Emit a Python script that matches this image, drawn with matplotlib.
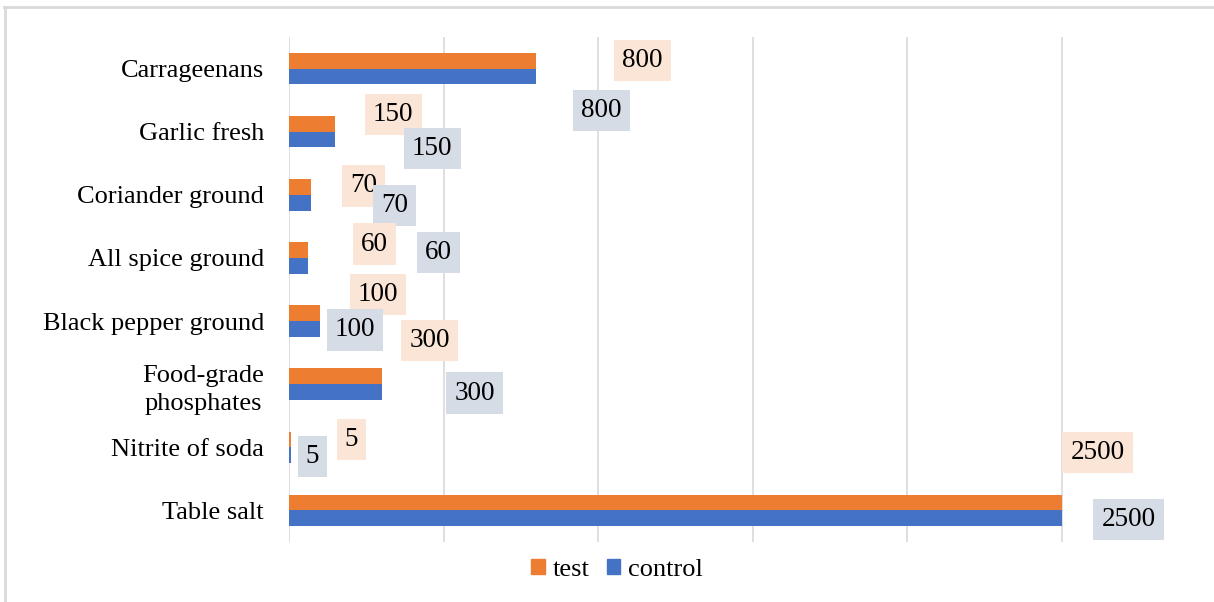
import matplotlib.pyplot as plt
from matplotlib.lines import Line2D
from matplotlib.patches import Patch

categories = ['Carrageenans', 'Garlic fresh', 'Coriander ground', 'All spice ground',
              'Black pepper ground', 'Food-grade\nphosphates', 'Nitrite of soda', 'Table salt']
test = [800, 150, 70, 60, 100, 300, 5, 2500]
control = [800, 150, 70, 60, 100, 300, 5, 2500]

# label offsets from the bar end, in pixels (dx right, dy up)
test_off = [(106, 0), (58, 9), (53, 1), (67, 6), (58, 19), (48, 36), (61, 0), (36, 50)]
control_off = [(65, -34), (97, -9), (84, -3), (131, 13), (35, -1), (93, -1), (22, -1), (67, -1)]

c_test = '#ED7D31'
c_control = '#4472C4'

plt.rcParams['font.family'] = ['Liberation Serif', 'DejaVu Serif']

fig = plt.figure(figsize=(12.14, 6.02), dpi=100)
W, H = 1214, 602
ax = fig.add_axes([289 / W, 1 - 542 / H, (1216 - 289) / W, (542 - 37) / H])

n = len(categories)
pos = list(range(n))[::-1]
h = 0.25
ax.barh([p + h / 2 for p in pos], test, height=h, color=c_test, label='test', zorder=3)
ax.barh([p - h / 2 for p in pos], control, height=h, color=c_control, label='control', zorder=3)

for i in range(n):
    ax.annotate(str(test[i]), xy=(test[i], pos[i] + h / 2), xytext=test_off[i],
                textcoords='offset pixels', ha='center', va='center', fontsize=19.5,
                bbox=dict(boxstyle='square,pad=0.3', fc='#FBE5D6', ec='none'), zorder=5)
    ax.annotate(str(control[i]), xy=(control[i], pos[i] - h / 2), xytext=control_off[i],
                textcoords='offset pixels', ha='center', va='center', fontsize=19.5,
                bbox=dict(boxstyle='square,pad=0.3', fc='#D6DCE5', ec='none'), zorder=5)

ax.set_xlim(0, 3000)
ax.set_ylim(-0.5, n - 0.5)
ax.set_xticks(range(0, 3001, 500))
ax.set_xticklabels([])
ax.set_yticks(pos)
ax.set_yticklabels(categories, fontsize=19, multialignment='center', linespacing=1.4)
ax.tick_params(axis='both', length=0)
ax.tick_params(axis='y', pad=18)
ax.grid(axis='x', color='#D9D9D9', lw=1.2, zorder=0)
for s in ax.spines.values():
    s.set_visible(False)

handles = [Patch(color=c_test, label='test'), Patch(color=c_control, label='control')]
fig.legend(handles=handles, loc='center', bbox_to_anchor=(617 / W, 1 - 570 / H), ncol=2,
           frameon=False, fontsize=19, handlelength=0.5, handleheight=0.5,
           handletextpad=0.3, columnspacing=0.65)

# chart frame
fig.add_artist(Line2D([4 / W, 1], [1 - 7 / H, 1 - 7 / H], color='#D9D9D9', lw=2))
fig.add_artist(Line2D([5 / W, 5 / W], [0, 1 - 7 / H], color='#D9D9D9', lw=2))

fig.savefig('out.png', dpi=100)
